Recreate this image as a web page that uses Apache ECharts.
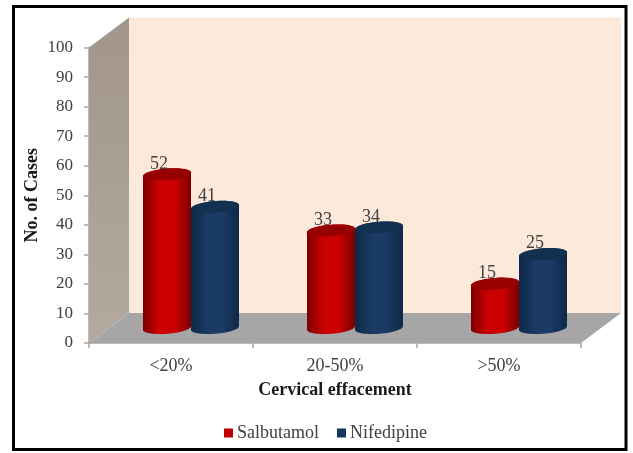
<!DOCTYPE html>
<html>
<head>
<meta charset="utf-8">
<style>html,body{margin:0;padding:0;background:#fff}#chart{width:633px;height:453px}</style>
<script src="https://cdn.jsdelivr.net/npm/echarts@6/dist/echarts.min.js"></script>
</head>
<body>
<div id="chart"></div>
<script>
// Cervical effacement by treatment group
const categories = ['<20%', '20-50%', '>50%'];
const salbutamol = [52, 33, 15];
const nifedipine = [41, 34, 25];

const FONT = '"Liberation Serif", serif';
const INK = '#404040';

// Oblique projection of the chart box: how far the back wall sits from the axes
const DEPTH_X = 40;
const DEPTH_Y = 30;
const BAR_WIDTH = 48;
const RY = 5.8;
const TILT = 1.8;

// Part of a tilted ellipse, from angle a0 to a1, as polygon points
function arc(cx, cy, a0, a1) {
  const pts = [];
  const n = 28;
  const rx = BAR_WIDTH / 2;
  for (let i = 0; i <= n; i++) {
    const t = a0 + (a1 - a0) * i / n;
    pts.push([cx + rx * Math.cos(t), cy + RY * Math.sin(t) - TILT * Math.cos(t)]);
  }
  return pts;
}

function cylinderSeries(name, values, side, colors) {
  return {
    type: 'custom',
    name: name,
    z: 3,
    clip: false,
    itemStyle: { color: colors.legend },
    data: values.map((v, i) => [i, v]),
    encode: { x: 0, y: 1 },
    renderItem(params, api) {
      const top = api.coord([api.value(0), api.value(1)]);
      const base = api.coord([api.value(0), 0]);
      const cx = top[0] + DEPTH_X / 2 + side * BAR_WIDTH / 2;
      const yTop = top[1] - DEPTH_Y / 2;
      const yBase = base[1] - DEPTH_Y / 2;
      const body = arc(cx, yBase, Math.PI, 0).concat(arc(cx, yTop, 0, -Math.PI));
      const rim = arc(cx, yTop, 0, Math.PI * 2);
      return {
        type: 'group',
        children: [
          {
            type: 'polygon',
            shape: { points: body },
            style: {
              fill: new echarts.graphic.LinearGradient(0, 0, 1, 0, [
                { offset: 0, color: colors.edge },
                { offset: 0.35, color: colors.mid },
                { offset: 0.65, color: colors.mid },
                { offset: 1, color: colors.edge }
              ])
            }
          },
          { type: 'polygon', shape: { points: rim }, style: { fill: colors.top } },
          {
            type: 'text',
            z2: 20,
            style: {
              x: cx - 8,
              y: yTop - 10.5,
              text: String(api.value(1)),
              fill: INK,
              font: '18px ' + FONT,
              align: 'center',
              verticalAlign: 'middle'
            }
          }
        ]
      };
    }
  };
}

// Side wall, back wall and floor, sized from the grid rectangle
const boxSeries = {
  type: 'custom',
  name: 'box',
  silent: true,
  z: 1,
  clip: false,
  data: [[0, 0]],
  encode: { x: 0, y: 1 },
  renderItem(params) {
    const r = params.coordSys;
    const l = r.x, t = r.y, w = r.width, h = r.height, b = t + h;
    const dx = DEPTH_X, dy = DEPTH_Y;
    return {
      type: 'group',
      children: [
        {
          type: 'polygon',
          shape: { points: [[l + dx, t - dy], [l + w + dx, t - dy], [l + w + dx, b - dy], [l + dx, b - dy]] },
          style: { fill: '#fde9d9' }
        },
        {
          type: 'polygon',
          shape: { points: [[l, t], [l + dx, t - dy], [l + dx, b - dy], [l, b]] },
          style: {
            fill: new echarts.graphic.LinearGradient(0, 0, 0, 1, [
              { offset: 0, color: '#a2968b' },
              { offset: 1, color: '#b3a99f' }
            ])
          }
        },
        {
          type: 'polygon',
          shape: { points: [[l, b], [l + dx, b - dy], [l + w + dx, b - dy], [l + w, b]] },
          style: { fill: '#a6a6a6' }
        }
      ]
    };
  }
};

const chart = echarts.init(document.getElementById('chart'), null, { renderer: 'canvas' });
chart.setOption({
  animation: false,
  backgroundColor: '#ffffff',
  textStyle: { fontFamily: FONT },
  graphic: [{
    type: 'rect',
    z: 100,
    silent: true,
    shape: { x: 13.5, y: 6.5, width: 612.5, height: 443 },
    style: { fill: 'none', stroke: '#000', lineWidth: 3 }
  }],
  grid: { left: 89, right: 52, top: 47.5, bottom: 110 },
  legend: {
    data: ['Salbutamol', 'Nifedipine'],
    top: 419,
    left: 219,
    icon: 'rect',
    itemWidth: 9,
    itemHeight: 9,
    itemGap: 18,
    textStyle: { fontFamily: FONT, fontSize: 18, color: INK, padding: [0, 0, 0, -1] }
  },
  xAxis: {
    type: 'category',
    data: categories,
    name: 'Cervical effacement',
    nameLocation: 'middle',
    nameGap: 38,
    nameMoveOverlap: false,
    nameTextStyle: { fontFamily: FONT, fontSize: 18, fontWeight: 'bold', color: '#1a1a1a' },
    axisLine: { lineStyle: { color: '#a6a6a6', width: 1.5 } },
    axisTick: { show: true, length: 5, alignWithLabel: false, lineStyle: { color: '#a6a6a6', width: 1.5 } },
    axisLabel: { fontFamily: FONT, fontSize: 18, color: INK, margin: 14 },
    splitLine: { show: false }
  },
  yAxis: {
    type: 'value',
    min: 0,
    max: 100,
    interval: 10,
    name: 'No. of Cases',
    nameLocation: 'middle',
    nameGap: 48,
    nameMoveOverlap: false,
    nameTextStyle: { fontFamily: FONT, fontSize: 18, fontWeight: 'bold', color: '#1a1a1a' },
    axisLine: { show: true, lineStyle: { color: '#a6a6a6', width: 1.5 } },
    axisTick: { show: true, length: 5, lineStyle: { color: '#a6a6a6', width: 1.5 } },
    axisLabel: { fontFamily: FONT, fontSize: 17, color: INK, margin: 16 },
    splitLine: { show: false }
  },
  series: [
    boxSeries,
    cylinderSeries('Salbutamol', salbutamol, -1, { legend: '#c00000', edge: '#7d0000', mid: '#cc0000', top: '#960000' }),
    cylinderSeries('Nifedipine', nifedipine, 1, { legend: '#17375e', edge: '#0e2847', mid: '#1a3b66', top: '#12304f' })
  ]
});
</script>
</body>
</html>
